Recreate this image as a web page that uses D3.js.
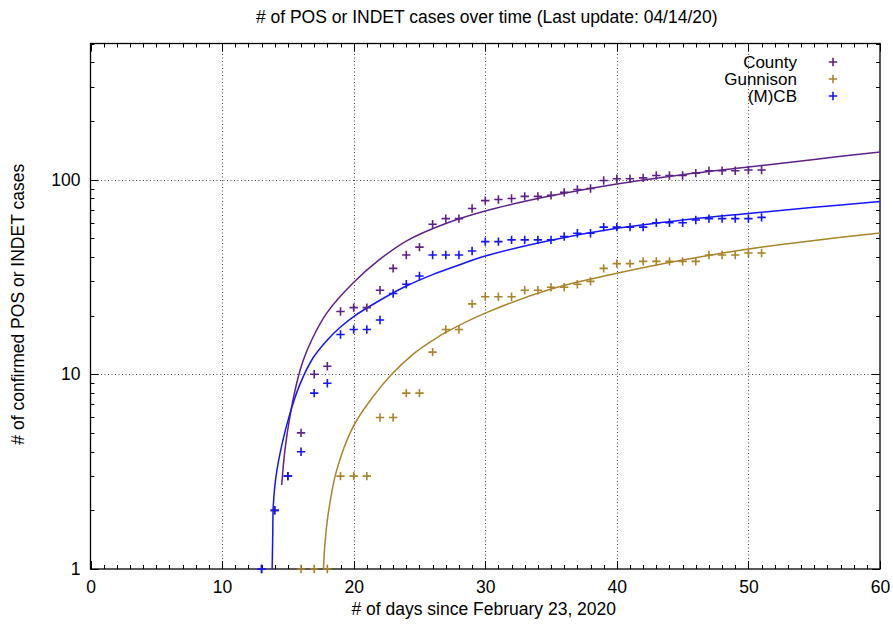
<!DOCTYPE html>
<html>
<head>
<meta charset="utf-8">
<script src="https://cdn.jsdelivr.net/npm/d3@7"></script>
<style>
  html, body { margin: 0; padding: 0; background: #fff; }
  svg { display: block; font-family: "Liberation Sans", Arial, sans-serif; }
</style>
</head>
<body>
<svg id="chart" width="893" height="624"></svg>
<script>
// ---------------- DATA ----------------
const titleText = "# of POS or INDET cases over time (Last update: 04/14/20)";
const xLabelText = "# of days since February 23, 2020";
const yLabelText = "# of confirmed POS or INDET cases";

const seriesNames = ["County", "Gunnison", "(M)CB"];
const seriesColors = ["#5e2189", "#a8852a", "#1414ff"];

const xTickValues = [0, 10, 20, 30, 40, 50, 60];
const yTickValues = [1, 10, 100];

// County observations
const countyDays = [13, 14, 15, 16, 17, 18, 19, 20, 21, 22, 23, 24, 25, 26, 27, 28, 29, 30, 31, 32,
  33, 34, 35, 36, 37, 38, 39, 40, 41, 42, 43, 44, 45, 46, 47, 48, 49, 50, 51];
const countyCases = [1, 2, 3, 5, 10, 11, 21, 22, 22, 27, 35, 41, 45, 59, 63, 63, 71, 78, 79, 80,
  82, 82, 83, 86, 89, 90, 99, 101, 101, 102, 105, 105, 105, 108, 111, 111, 111, 112, 112];

// Gunnison observations
const gunnisonDays = [16, 17, 18, 19, 20, 21, 22, 23, 24, 25, 26, 27, 28, 29, 30, 31, 32, 33, 34,
  35, 36, 37, 38, 39, 40, 41, 42, 43, 44, 45, 46, 47, 48, 49, 50, 51];
const gunnisonCases = [1, 1, 1, 3, 3, 3, 6, 6, 8, 8, 13, 17, 17, 23, 25, 25, 25, 27, 27,
  28, 28, 29, 30, 35, 37, 37, 38, 38, 38, 38, 38, 41, 41, 41, 42, 42];

// (M)CB observations
const mcbDays = [13, 14, 15, 16, 17, 18, 19, 20, 21, 22, 23, 24, 25, 26, 27, 28, 29, 30, 31, 32,
  33, 34, 35, 36, 37, 38, 39, 40, 41, 42, 43, 44, 45, 46, 47, 48, 49, 50, 51];
const mcbCases = [1, 2, 3, 4, 8, 9, 16, 17, 17, 19, 26, 29, 32, 41, 41, 41, 43, 48, 48, 49,
  49, 49, 49, 51, 53, 53, 57, 57, 57, 57, 60, 60, 60, 62, 63, 63, 63, 63, 64];

// Fitted curves (samples)
const countyFitDays = [14.53, 14.78, 15.16, 15.67, 16.17, 16.81, 17.95, 19.97, 22.0, 24.03, 27.0,
  30.0, 35.0, 40.0, 45.0, 50.0, 55.0, 60.0];
const countyFitCases = [2.7, 4.1, 6.1, 9.0, 11.8, 15.0, 20.6, 29.5, 39.0, 48.5, 59.5,
  69.0, 82.5, 95.0, 106.0, 116.0, 127.0, 138.6];

const gunnisonFitDays = [17.65, 17.8, 18.07, 18.7, 19.97, 21.49, 22.89, 24.53, 26.05, 27.0, 30.0,
  35.0, 40.0, 45.0, 50.0, 55.0, 60.0];
const gunnisonFitCases = [0.8, 1.3, 1.93, 3.2, 5.4, 7.7, 10.0, 12.7, 15.0, 16.4, 20.6,
  27.4, 33.0, 38.6, 44.0, 48.7, 53.2];

const mcbFitDays = [13.78, 13.85, 13.89, 14.1, 14.53, 15.16, 15.92, 16.93, 18.07, 19.0, 20.0, 22.0,
  24.0, 26.0, 28.0, 30.0, 35.0, 40.0, 45.0, 50.0, 55.0, 60.0];
const mcbFitCases = [0.8, 1.5, 2.1, 3.0, 4.3, 6.3, 8.9, 12.2, 15.2, 17.5, 19.8, 24.0,
  28.4, 32.5, 36.4, 40.5, 48.8, 56.2, 62.0, 67.0, 72.0, 77.2];

// ---------------- LAYOUT ----------------
const plotLeft = 90.5, plotRight = 880, plotTop = 43.5, plotBottom = 569;
const fontSize = 17.5;
const legendFont = 17;

const svg = d3.select("#chart");

const x = d3.scaleLinear().domain([0, 60]).range([plotLeft, plotRight]);
const y = d3.scaleLog().domain([1, 500]).range([plotBottom, plotTop]);

// clip
svg.append("defs").append("clipPath").attr("id", "plotclip")
  .append("rect").attr("x", plotLeft).attr("y", plotTop)
  .attr("width", plotRight - plotLeft).attr("height", plotBottom - plotTop);

// grid
const grid = svg.append("g").attr("class", "grid")
  .attr("stroke", "#444").attr("stroke-width", 1).attr("stroke-dasharray", "1,2.5");
xTickValues.filter(v => v > 0 && v < 60).forEach(v => {
  grid.append("line").attr("x1", Math.round(x(v)) + 0.5).attr("x2", Math.round(x(v)) + 0.5)
    .attr("y1", plotTop).attr("y2", plotBottom);
});
yTickValues.filter(v => v > 1).forEach(v => {
  grid.append("line").attr("y1", Math.round(y(v)) + 0.5).attr("y2", Math.round(y(v)) + 0.5)
    .attr("x1", plotLeft).attr("x2", plotRight);
});

// ticks (inward, mirrored)
const majorLen = 8, minorLen = 4;
const tickG = svg.append("g").attr("stroke", "#000").attr("stroke-width", 1);
const xMinor = d3.range(0, 61, 1);
xMinor.forEach(v => {
  const len = (v % 10 === 0) ? majorLen : minorLen;
  const px = Math.round(x(v)) + 0.5;
  tickG.append("line").attr("x1", px).attr("x2", px).attr("y1", plotBottom).attr("y2", plotBottom - len);
  tickG.append("line").attr("x1", px).attr("x2", px).attr("y1", plotTop).attr("y2", plotTop + len);
});
const yTicksAll = y.ticks(20).filter(v => v >= 1 && v <= 500);
yTicksAll.forEach(v => {
  const major = yTickValues.includes(v);
  const len = major ? majorLen : minorLen;
  const py = Math.round(y(v)) + 0.5;
  tickG.append("line").attr("y1", py).attr("y2", py).attr("x1", plotLeft).attr("x2", plotLeft + len);
  tickG.append("line").attr("y1", py).attr("y2", py).attr("x1", plotRight).attr("x2", plotRight - len);
});

// tick labels via axes (no lines)
const xAxis = d3.axisBottom(x).tickValues(xTickValues).tickSize(0).tickPadding(12);
svg.append("g").attr("transform", `translate(0,${plotBottom})`).call(xAxis)
  .call(g => g.select(".domain").remove())
  .call(g => g.selectAll("text").attr("font-size", fontSize).attr("font-family", "Liberation Sans, Arial, sans-serif").attr("fill", "#000"));
const yAxis = d3.axisLeft(y).tickValues(yTickValues).tickFormat(d3.format("d")).tickSize(0).tickPadding(10);
svg.append("g").attr("transform", `translate(${plotLeft},0)`).call(yAxis)
  .call(g => g.select(".domain").remove())
  .call(g => g.selectAll("text").attr("font-size", fontSize).attr("font-family", "Liberation Sans, Arial, sans-serif").attr("fill", "#000"));

// border
svg.append("rect").attr("x", plotLeft).attr("y", plotTop)
  .attr("width", plotRight - plotLeft).attr("height", plotBottom - plotTop)
  .attr("fill", "none").attr("stroke", "#000").attr("stroke-width", 1.3);

// series
const series = [
  { days: countyDays, cases: countyCases, fd: countyFitDays, fc: countyFitCases },
  { days: gunnisonDays, cases: gunnisonCases, fd: gunnisonFitDays, fc: gunnisonFitCases },
  { days: mcbDays, cases: mcbCases, fd: mcbFitDays, fc: mcbFitCases }
];

const plotG = svg.append("g").attr("clip-path", "url(#plotclip)");
const line = d3.line().x(d => x(d[0])).y(d => y(d[1])).curve(d3.curveCatmullRom.alpha(0.5));
const plusPath = (cx, cy, h) => `M${cx - h},${cy}H${cx + h}M${cx},${cy - h}V${cy + h}`;

series.forEach((s, i) => {
  const col = seriesColors[i];
  const pts = s.days.map((d, k) => [d, s.cases[k]]);
  svg.append("g").selectAll("path").data(pts).join("path")
    .attr("d", d => plusPath(x(d[0]), y(d[1]), 4.2))
    .attr("stroke", col).attr("stroke-width", 1.6).attr("fill", "none");
  const fit = s.fd.map((d, k) => [d, s.fc[k]]);
  plotG.append("path").datum(fit).attr("d", line)
    .attr("fill", "none").attr("stroke", col).attr("stroke-width", 1.5);
});

// legend
const legendY = [62, 79, 96];
seriesNames.forEach((n, i) => {
  svg.append("text").attr("x", 797).attr("y", legendY[i]).attr("dy", "0.35em")
    .attr("text-anchor", "end").attr("font-size", legendFont).attr("fill", "#000").text(n);
  svg.append("path").attr("d", plusPath(833, legendY[i], 4.2))
    .attr("stroke", seriesColors[i]).attr("stroke-width", 1.6).attr("fill", "none");
});

// titles
svg.append("text").attr("x", (plotLeft + plotRight) / 2 + 1.5).attr("y", 17).attr("dy", "0.35em")
  .attr("text-anchor", "middle").attr("font-size", fontSize).attr("fill", "#000").text(titleText);
svg.append("text").attr("x", (plotLeft + plotRight) / 2 - 1.5).attr("y", 609).attr("dy", "0.35em")
  .attr("text-anchor", "middle").attr("font-size", fontSize).attr("fill", "#000").text(xLabelText);
svg.append("text").attr("transform", `translate(18,${(plotTop + plotBottom) / 2 - 2}) rotate(-90)`)
  .attr("dy", "0.35em").attr("text-anchor", "middle").attr("font-size", fontSize).attr("fill", "#000").text(yLabelText);
</script>
</body>
</html>
